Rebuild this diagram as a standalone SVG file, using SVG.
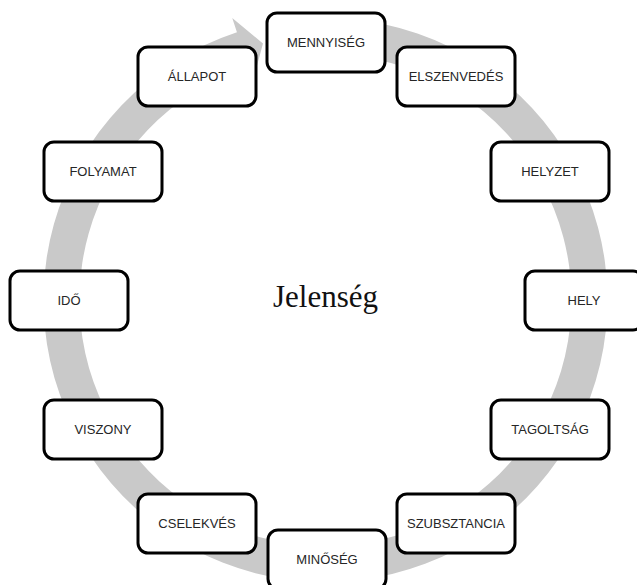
<svg xmlns="http://www.w3.org/2000/svg" width="637" height="585" viewBox="0 0 637 585">
<style>
.node rect{fill:#ffffff;stroke:#000000;stroke-width:3}
.node text{font-family:"Liberation Sans",Arial,sans-serif;font-size:13px;fill:#262626;text-anchor:middle}
.ring{fill:#c9c9c9;stroke:none}
.title{font-family:"Liberation Serif","Times New Roman",serif;font-size:31px;fill:#111111;text-anchor:middle}
</style>
<rect x="0" y="0" width="637" height="585" fill="#ffffff"/>
<g id="connectors">
<path class="ring" d="M 350.08,19.07 A 282 282 0 1 1 236.95,32.26 L 232.25,18.02 L 262.98,43.51 L 252.97,80.68 L 248.26,66.44 A 246 246 0 1 0 346.94,54.94 Z"/>
</g>
<text class="title" x="325.5" y="307">Jelenség</text>
<g id="node-mennyiseg" class="node"><rect x="267" y="13" width="118" height="59" rx="10"/><text x="326" y="47">MENNYISÉG</text></g>
<g id="node-elszenvedes" class="node"><rect x="397" y="47" width="118" height="59" rx="10"/><text x="456" y="81">ELSZENVEDÉS</text></g>
<g id="node-helyzet" class="node"><rect x="491" y="142" width="118" height="59" rx="10"/><text x="550" y="176">HELYZET</text></g>
<g id="node-hely" class="node"><rect x="525" y="271" width="118" height="59" rx="10"/><text x="584" y="305">HELY</text></g>
<g id="node-tagoltsag" class="node"><rect x="491" y="400" width="118" height="59" rx="10"/><text x="550" y="434">TAGOLTSÁG</text></g>
<g id="node-szubsztancia" class="node"><rect x="397" y="494" width="118" height="59" rx="10"/><text x="456" y="528">SZUBSZTANCIA</text></g>
<g id="node-minoseg" class="node"><rect x="268" y="530" width="118" height="59" rx="10"/><text x="327" y="564">MINŐSÉG</text></g>
<g id="node-cselekves" class="node"><rect x="138" y="494" width="118" height="59" rx="10"/><text x="197" y="528">CSELEKVÉS</text></g>
<g id="node-viszony" class="node"><rect x="44" y="400" width="118" height="59" rx="10"/><text x="103" y="434">VISZONY</text></g>
<g id="node-ido" class="node"><rect x="10" y="271" width="118" height="59" rx="10"/><text x="69" y="305">IDŐ</text></g>
<g id="node-folyamat" class="node"><rect x="44" y="142" width="118" height="59" rx="10"/><text x="103" y="176">FOLYAMAT</text></g>
<g id="node-allapot" class="node"><rect x="138" y="47" width="118" height="59" rx="10"/><text x="197" y="81">ÁLLAPOT</text></g>
</svg>
